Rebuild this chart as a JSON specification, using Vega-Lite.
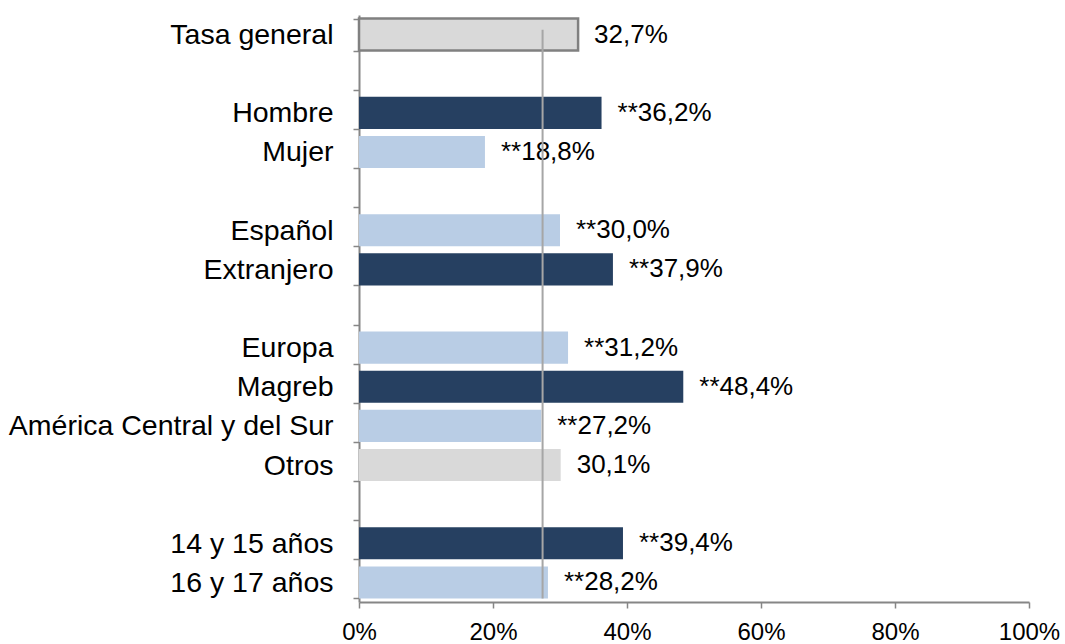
{
  "$schema": "https://vega.github.io/schema/vega-lite/v6.json",
  "width": 670,
  "height": 587,
  "autosize": {"type": "none"},
  "padding": {"left": 359, "top": 15, "right": 36, "bottom": 42},
  "background": "white",
  "config": {"view": {"stroke": null}, "font": "Liberation Sans"},
  "data": {"values": [
    {"cat": "Tasa general", "valor": 32.7, "texto": "32,7%", "tipo": "general"},
    {"cat": "Hombre", "valor": 36.2, "texto": "**36,2%", "tipo": "oscuro"},
    {"cat": "Mujer", "valor": 18.8, "texto": "**18,8%", "tipo": "claro"},
    {"cat": "Español", "valor": 30.0, "texto": "**30,0%", "tipo": "claro"},
    {"cat": "Extranjero", "valor": 37.9, "texto": "**37,9%", "tipo": "oscuro"},
    {"cat": "Europa", "valor": 31.2, "texto": "**31,2%", "tipo": "claro"},
    {"cat": "Magreb", "valor": 48.4, "texto": "**48,4%", "tipo": "oscuro"},
    {"cat": "América Central y del Sur", "valor": 27.2, "texto": "**27,2%", "tipo": "claro"},
    {"cat": "Otros", "valor": 30.1, "texto": "30,1%", "tipo": "gris"},
    {"cat": "14 y 15 años", "valor": 39.4, "texto": "**39,4%", "tipo": "oscuro"},
    {"cat": "16 y 17 años", "valor": 28.2, "texto": "**28,2%", "tipo": "claro"}
  ]},
  "encoding": {
    "y": {
      "field": "cat", "type": "nominal",
      "scale": {
        "domain": ["Tasa general", "_1", "Hombre", "Mujer", "_2", "Español", "Extranjero", "_3", "Europa", "Magreb", "América Central y del Sur", "Otros", "_4", "14 y 15 años", "16 y 17 años"],
        "paddingInner": 0.18, "paddingOuter": 0.09
      },
      "axis": {
        "title": null,
        "labelExpr": "indexof(datum.label, '_') == 0 ? '' : datum.label",
        "labelFontSize": 28.5, "labelColor": "#000000", "labelFont": "Liberation Sans",
        "labelPadding": 20, "tickBand": "extent", "tickSize": 6,
        "tickColor": "#868686", "tickWidth": 1.5,
        "domainColor": "#868686", "domainWidth": 2, "labelLimit": 400
      }
    }
  },
  "layer": [
    {
      "mark": {"type": "bar"},
      "encoding": {
        "x": {
          "field": "valor", "type": "quantitative",
          "scale": {"domain": [0, 100], "nice": false},
          "axis": {
            "title": null, "values": [0, 20, 40, 60, 80, 100],
            "labelExpr": "datum.value + '%'", "labelFlush": false,
            "labelFontSize": 24, "labelColor": "#000000", "labelFont": "Liberation Sans",
            "labelPadding": 12, "tickSize": 6, "tickColor": "#868686", "tickWidth": 1.5,
            "domainColor": "#868686", "domainWidth": 2, "grid": false
          }
        },
        "color": {
          "field": "tipo", "type": "nominal", "legend": null,
          "scale": {"domain": ["general", "oscuro", "claro", "gris"], "range": ["#D9D9D9", "#264061", "#B9CDE5", "#D9D9D9"]}
        },
        "stroke": {
          "field": "tipo", "type": "nominal", "legend": null,
          "scale": {"domain": ["general", "oscuro", "claro", "gris"], "range": ["#808080", "transparent", "transparent", "transparent"]}
        },
        "strokeWidth": {"value": 2.5}
      }
    },
    {
      "mark": {"type": "text", "align": "left", "baseline": "middle", "dx": 16, "fontSize": 26, "font": "Liberation Sans", "color": "#000000"},
      "encoding": {
        "x": {"field": "valor", "type": "quantitative"},
        "text": {"field": "texto"}
      }
    },
    {
      "data": {"values": [{"ref": 27.4, "desde": "Tasa general", "hasta": "16 y 17 años"}]},
      "mark": {"type": "rule", "color": "#A6A6A6", "strokeWidth": 2},
      "encoding": {
        "x": {"field": "ref", "type": "quantitative"},
        "y": {"field": "desde", "type": "nominal", "bandPosition": 0.35},
        "y2": {"field": "hasta", "bandPosition": 1}
      }
    }
  ]
}
